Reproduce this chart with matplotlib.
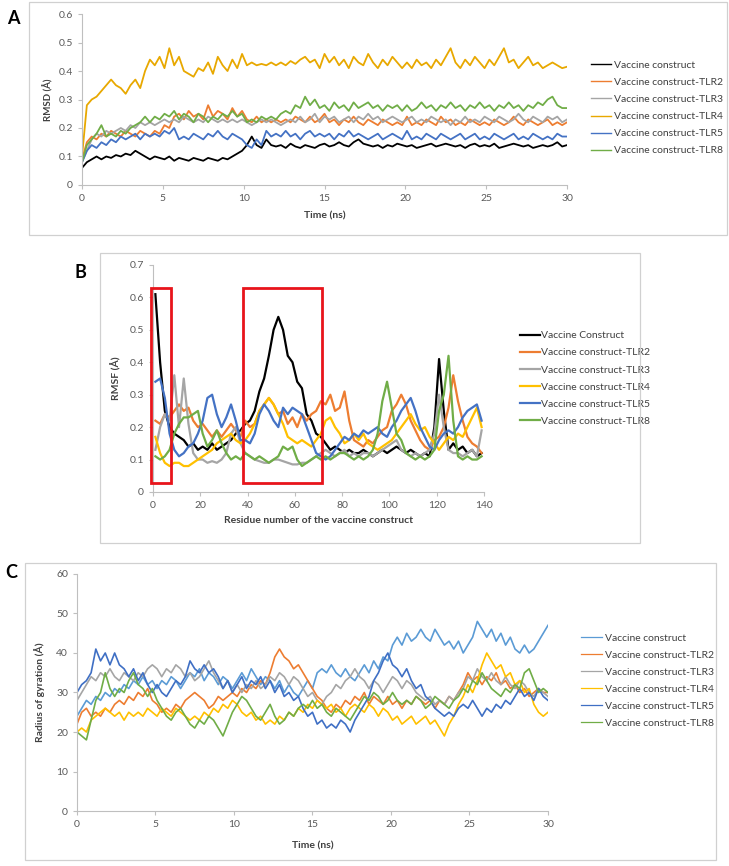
import numpy as np
import matplotlib
matplotlib.use("Agg")
import matplotlib.pyplot as plt
from matplotlib.patches import Rectangle

plt.rcParams['font.family'] = ['Lato', 'DejaVu Sans']

# ---- DATA ----
labels_a = ["Vaccine construct", "Vaccine construct-TLR2", "Vaccine construct-TLR3",
            "Vaccine construct-TLR4", "Vaccine construct-TLR5", "Vaccine construct-TLR8"]
labels_b = ["Vaccine Construct", "Vaccine construct-TLR2", "Vaccine construct-TLR3",
            "Vaccine construct-TLR4", "Vaccine construct-TLR5", "Vaccine construct-TLR8"]

# RMSD (A), sampled every 0.3 ns from 0 to 30 ns
rmsd_vc = [0.06, 0.08, 0.09, 0.10, 0.09, 0.10, 0.095, 0.105, 0.10, 0.11, 0.105, 0.12, 0.11, 0.10, 0.09, 0.10,
           0.095, 0.09, 0.10, 0.085, 0.095, 0.09, 0.085, 0.095, 0.09, 0.085, 0.095, 0.09, 0.085, 0.095, 0.09,
           0.10, 0.11, 0.12, 0.14, 0.17, 0.14, 0.13, 0.16, 0.14, 0.135, 0.14, 0.13, 0.145, 0.135, 0.13, 0.14,
           0.135, 0.13, 0.14, 0.145, 0.135, 0.14, 0.15, 0.14, 0.135, 0.15, 0.16, 0.145, 0.14, 0.135, 0.14, 0.13,
           0.14, 0.135, 0.145, 0.14, 0.135, 0.14, 0.13, 0.135, 0.14, 0.145, 0.135, 0.14, 0.145, 0.14, 0.135,
           0.14, 0.13, 0.14, 0.145, 0.135, 0.14, 0.135, 0.145, 0.13, 0.135, 0.14, 0.145, 0.14, 0.135, 0.14,
           0.13, 0.135, 0.14, 0.135, 0.14, 0.15, 0.135, 0.14]
rmsd_tlr2 = [0.09, 0.15, 0.17, 0.16, 0.18, 0.17, 0.19, 0.18, 0.17, 0.19, 0.18, 0.17, 0.19, 0.18, 0.17, 0.19,
             0.18, 0.21, 0.20, 0.24, 0.25, 0.23, 0.26, 0.24, 0.25, 0.23, 0.28, 0.24, 0.26, 0.25, 0.23, 0.27,
             0.24, 0.26, 0.23, 0.22, 0.24, 0.22, 0.23, 0.22, 0.23, 0.22, 0.23, 0.22, 0.24, 0.23, 0.22, 0.24,
             0.22, 0.23, 0.25, 0.22, 0.23, 0.21, 0.23, 0.22, 0.24, 0.22, 0.21, 0.23, 0.22, 0.21, 0.23, 0.22,
             0.21, 0.22, 0.21, 0.24, 0.21, 0.22, 0.21, 0.23, 0.22, 0.21, 0.24, 0.22, 0.23, 0.21, 0.22, 0.21,
             0.23, 0.22, 0.21, 0.22, 0.21, 0.23, 0.22, 0.21, 0.22, 0.24, 0.22, 0.21, 0.23, 0.22, 0.21, 0.22,
             0.23, 0.21, 0.22, 0.21, 0.22]
rmsd_tlr3 = [0.08, 0.12, 0.16, 0.18, 0.17, 0.19, 0.18, 0.19, 0.20, 0.19, 0.21, 0.20, 0.22, 0.21, 0.22, 0.21,
             0.22, 0.23, 0.22, 0.23, 0.22, 0.24, 0.23, 0.22, 0.23, 0.22, 0.24, 0.23, 0.22, 0.23, 0.22, 0.23,
             0.22, 0.23, 0.22, 0.21, 0.22, 0.23, 0.22, 0.23, 0.22, 0.21, 0.22, 0.23, 0.22, 0.24, 0.22, 0.23,
             0.25, 0.22, 0.24, 0.23, 0.24, 0.22, 0.23, 0.24, 0.22, 0.24, 0.23, 0.25, 0.23, 0.24, 0.22, 0.23,
             0.24, 0.23, 0.22, 0.23, 0.24, 0.22, 0.23, 0.22, 0.24, 0.23, 0.22, 0.23, 0.21, 0.23, 0.22, 0.24,
             0.22, 0.23, 0.22, 0.24, 0.23, 0.22, 0.24, 0.23, 0.22, 0.23, 0.25, 0.23, 0.22, 0.24, 0.23, 0.22,
             0.24, 0.23, 0.24, 0.22, 0.23]
rmsd_tlr4 = [0.10, 0.28, 0.30, 0.31, 0.33, 0.35, 0.37, 0.35, 0.34, 0.32, 0.35, 0.37, 0.34, 0.40, 0.44, 0.42,
             0.45, 0.41, 0.48, 0.42, 0.45, 0.40, 0.39, 0.38, 0.41, 0.40, 0.43, 0.39, 0.45, 0.42, 0.40, 0.44,
             0.41, 0.46, 0.42, 0.43, 0.42, 0.425, 0.42, 0.43, 0.42, 0.43, 0.42, 0.435, 0.425, 0.44, 0.45, 0.43,
             0.44, 0.41, 0.46, 0.43, 0.45, 0.42, 0.44, 0.41, 0.45, 0.43, 0.42, 0.46, 0.43, 0.41, 0.44, 0.42,
             0.45, 0.43, 0.41, 0.43, 0.41, 0.44, 0.42, 0.43, 0.41, 0.44, 0.42, 0.45, 0.48, 0.43, 0.41, 0.44,
             0.42, 0.45, 0.43, 0.41, 0.44, 0.42, 0.45, 0.48, 0.43, 0.44, 0.41, 0.43, 0.45, 0.42, 0.43, 0.41,
             0.42, 0.43, 0.42, 0.41, 0.415]
rmsd_tlr5 = [0.08, 0.12, 0.14, 0.13, 0.15, 0.14, 0.16, 0.15, 0.17, 0.16, 0.17, 0.18, 0.16, 0.18, 0.17, 0.18,
             0.17, 0.19, 0.18, 0.20, 0.16, 0.17, 0.16, 0.18, 0.17, 0.16, 0.18, 0.17, 0.19, 0.17, 0.16, 0.18,
             0.17, 0.16, 0.14, 0.13, 0.16, 0.14, 0.19, 0.17, 0.18, 0.17, 0.19, 0.17, 0.18, 0.16, 0.18, 0.19,
             0.17, 0.18, 0.17, 0.18, 0.16, 0.18, 0.17, 0.19, 0.17, 0.18, 0.17, 0.16, 0.17, 0.18, 0.16, 0.17,
             0.18, 0.17, 0.16, 0.19, 0.16, 0.17, 0.16, 0.18, 0.17, 0.16, 0.18, 0.17, 0.16, 0.17, 0.18, 0.16,
             0.17, 0.18, 0.16, 0.17, 0.16, 0.18, 0.17, 0.16, 0.17, 0.18, 0.16, 0.17, 0.16, 0.18, 0.17, 0.16,
             0.17, 0.16, 0.18, 0.17, 0.17]
rmsd_tlr8 = [0.08, 0.14, 0.16, 0.18, 0.21, 0.17, 0.18, 0.17, 0.19, 0.18, 0.20, 0.21, 0.22, 0.24, 0.22, 0.24,
             0.23, 0.25, 0.24, 0.26, 0.23, 0.25, 0.24, 0.22, 0.25, 0.24, 0.22, 0.24, 0.23, 0.25, 0.24, 0.26,
             0.24, 0.25, 0.22, 0.23, 0.22, 0.24, 0.23, 0.24, 0.23, 0.25, 0.26, 0.25, 0.28, 0.27, 0.31, 0.28,
             0.30, 0.27, 0.28, 0.26, 0.29, 0.27, 0.28, 0.26, 0.29, 0.27, 0.28, 0.29, 0.27, 0.28, 0.26, 0.28,
             0.27, 0.28, 0.26, 0.28, 0.26, 0.27, 0.29, 0.27, 0.28, 0.26, 0.28, 0.27, 0.29, 0.27, 0.28, 0.26,
             0.28, 0.27, 0.29, 0.27, 0.28, 0.26, 0.28, 0.27, 0.29, 0.27, 0.28, 0.26, 0.28, 0.27, 0.29, 0.28,
             0.30, 0.31, 0.28, 0.27, 0.27]

# RMSF (A) per residue, every second residue
residues = [1, 3, 5, 7, 9, 11, 13, 15, 17, 19, 21, 23, 25, 27, 29, 31, 33, 35, 37, 39, 41, 43, 45, 47, 49,
            51, 53, 55, 57, 59, 61, 63, 65, 67, 69, 71, 73, 75, 77, 79, 81, 83, 85, 87, 89, 91, 93, 95, 97,
            99, 101, 103, 105, 107, 109, 111, 113, 115, 117, 119, 121, 123, 125, 127, 129, 131, 133, 135,
            137, 139]
rmsf_vc = [0.61, 0.40, 0.25, 0.20, 0.18, 0.17, 0.16, 0.14, 0.15, 0.13, 0.14, 0.13, 0.15, 0.13, 0.14, 0.15,
           0.16, 0.18, 0.19, 0.21, 0.22, 0.25, 0.31, 0.35, 0.42, 0.50, 0.54, 0.50, 0.42, 0.40, 0.34, 0.32,
           0.24, 0.22, 0.18, 0.17, 0.15, 0.13, 0.14, 0.13, 0.12, 0.13, 0.12, 0.12, 0.13, 0.12, 0.11, 0.12,
           0.13, 0.12, 0.13, 0.14, 0.13, 0.12, 0.13, 0.12, 0.11, 0.12, 0.11, 0.20, 0.41, 0.25, 0.13, 0.15,
           0.13, 0.14, 0.12, 0.13, 0.11, 0.12]
rmsf_tlr2 = [0.22, 0.21, 0.24, 0.23, 0.25, 0.27, 0.25, 0.26, 0.22, 0.20, 0.21, 0.19, 0.17, 0.19, 0.17, 0.19,
             0.21, 0.19, 0.17, 0.22, 0.20, 0.21, 0.25, 0.27, 0.29, 0.27, 0.24, 0.25, 0.21, 0.23, 0.20, 0.24,
             0.22, 0.24, 0.25, 0.28, 0.27, 0.30, 0.25, 0.26, 0.31, 0.22, 0.16, 0.15, 0.14, 0.16, 0.15, 0.17,
             0.19, 0.20, 0.25, 0.27, 0.30, 0.27, 0.22, 0.19, 0.16, 0.14, 0.13, 0.16, 0.17, 0.20, 0.26, 0.36,
             0.28, 0.22, 0.17, 0.15, 0.14, 0.12]
rmsf_tlr3 = [0.13, 0.20, 0.24, 0.22, 0.36, 0.20, 0.35, 0.21, 0.12, 0.10, 0.10, 0.09, 0.095, 0.09, 0.10, 0.12,
             0.18, 0.20, 0.15, 0.12, 0.11, 0.10, 0.095, 0.09, 0.09, 0.10, 0.10, 0.095, 0.09, 0.085, 0.085, 0.09,
             0.09, 0.10, 0.11, 0.12, 0.13, 0.12, 0.11, 0.12, 0.13, 0.11, 0.12, 0.11, 0.12, 0.12, 0.11, 0.12,
             0.13, 0.14, 0.15, 0.16, 0.13, 0.12, 0.11, 0.12, 0.11, 0.12, 0.13, 0.18, 0.30, 0.20, 0.13, 0.12,
             0.12, 0.11, 0.12, 0.13, 0.11, 0.19]
rmsf_tlr4 = [0.17, 0.12, 0.09, 0.08, 0.09, 0.09, 0.08, 0.08, 0.09, 0.10, 0.11, 0.12, 0.13, 0.15, 0.16, 0.17,
             0.18, 0.16, 0.15, 0.16, 0.18, 0.21, 0.25, 0.27, 0.29, 0.27, 0.24, 0.21, 0.17, 0.16, 0.15, 0.16,
             0.15, 0.14, 0.16, 0.18, 0.22, 0.23, 0.20, 0.18, 0.15, 0.16, 0.18, 0.16, 0.18, 0.15, 0.14, 0.13,
             0.14, 0.15, 0.16, 0.18, 0.20, 0.22, 0.24, 0.21, 0.19, 0.20, 0.17, 0.15, 0.13, 0.15, 0.17, 0.16,
             0.18, 0.17, 0.20, 0.23, 0.26, 0.20]
rmsf_tlr5 = [0.34, 0.35, 0.29, 0.18, 0.13, 0.11, 0.12, 0.14, 0.15, 0.18, 0.22, 0.29, 0.30, 0.24, 0.20, 0.23,
             0.27, 0.22, 0.16, 0.16, 0.15, 0.18, 0.24, 0.27, 0.25, 0.22, 0.20, 0.26, 0.24, 0.26, 0.25, 0.24,
             0.20, 0.16, 0.12, 0.11, 0.10, 0.11, 0.13, 0.15, 0.17, 0.16, 0.18, 0.17, 0.19, 0.18, 0.19, 0.20,
             0.18, 0.17, 0.20, 0.22, 0.25, 0.27, 0.29, 0.25, 0.20, 0.17, 0.14, 0.13, 0.16, 0.18, 0.19, 0.18,
             0.20, 0.23, 0.25, 0.26, 0.27, 0.22]
rmsf_tlr8 = [0.11, 0.10, 0.11, 0.13, 0.18, 0.21, 0.23, 0.23, 0.24, 0.25, 0.18, 0.14, 0.16, 0.19, 0.15, 0.12,
             0.10, 0.11, 0.10, 0.12, 0.11, 0.10, 0.11, 0.10, 0.09, 0.10, 0.11, 0.14, 0.13, 0.14, 0.10, 0.08,
             0.09, 0.10, 0.11, 0.10, 0.11, 0.10, 0.11, 0.12, 0.12, 0.11, 0.10, 0.11, 0.10, 0.11, 0.13, 0.18,
             0.28, 0.34, 0.26, 0.18, 0.16, 0.12, 0.11, 0.10, 0.11, 0.10, 0.11, 0.13, 0.25, 0.30, 0.42, 0.22,
             0.11, 0.10, 0.11, 0.10, 0.10, 0.11]

# Radius of gyration (A), sampled every 0.3 ns
rg_vc = [24, 26, 28, 27, 29, 28, 30, 29, 31, 30, 32, 31, 33, 32, 34, 32, 33, 31, 33, 32, 34, 33, 31, 33, 35,
         34, 36, 33, 35, 34, 32, 34, 33, 31, 33, 35, 33, 36, 34, 32, 34, 33, 31, 33, 30, 32, 30, 29, 31, 33,
         31, 35, 36, 35, 37, 35, 34, 36, 34, 33, 35, 37, 35, 38, 36, 39, 38, 42, 44, 42, 45, 43, 44, 46, 44,
         43, 46, 44, 42, 43, 41, 43, 40, 42, 44, 48, 46, 44, 46, 43, 45, 42, 44, 41, 40, 42, 40, 41, 43, 45, 47]
rg_tlr2 = [22, 25, 26, 24, 25, 24, 26, 25, 27, 28, 27, 29, 28, 30, 29, 31, 28, 27, 25, 26, 25, 27, 26, 28, 29,
           30, 29, 28, 26, 27, 29, 28, 29, 30, 29, 31, 30, 32, 31, 33, 32, 35, 39, 41, 39, 38, 36, 37, 35, 33,
           31, 29, 28, 26, 25, 27, 26, 28, 27, 29, 28, 30, 27, 29, 28, 27, 29, 27, 28, 26, 28, 27, 29, 28, 27,
           28, 26, 28, 27, 29, 28, 30, 32, 35, 33, 34, 32, 34, 33, 35, 32, 33, 31, 32, 30, 31, 29, 30, 31, 30, 30]
rg_tlr3 = [28, 30, 32, 34, 33, 35, 34, 36, 34, 33, 35, 34, 33, 35, 34, 36, 37, 36, 34, 36, 35, 37, 36, 34, 35,
           33, 34, 36, 38, 35, 33, 31, 33, 30, 32, 30, 32, 31, 33, 31, 32, 34, 33, 35, 34, 32, 34, 33, 31, 29,
           30, 28, 27, 29, 30, 32, 31, 33, 34, 36, 34, 33, 31, 33, 32, 30, 32, 34, 33, 31, 33, 32, 30, 29, 28,
           29, 27, 28, 27, 29, 28, 30, 31, 34, 33, 36, 34, 33, 35, 33, 32, 34, 32, 31, 33, 32, 30, 29, 31, 30, 29]
rg_tlr4 = [20, 21, 20, 23, 24, 25, 26, 25, 24, 25, 23, 25, 24, 25, 24, 26, 25, 24, 26, 25, 24, 26, 25, 24, 23,
           24, 23, 25, 24, 26, 25, 27, 26, 28, 27, 25, 24, 25, 23, 24, 22, 23, 22, 24, 23, 25, 24, 26, 25, 27,
           26, 28, 27, 26, 27, 25, 26, 24, 26, 27, 26, 25, 27, 26, 24, 26, 25, 23, 24, 22, 23, 24, 22, 23, 24,
           22, 23, 21, 19, 22, 24, 27, 29, 32, 30, 33, 37, 40, 38, 36, 37, 34, 35, 32, 33, 30, 31, 27, 25, 24, 25]
rg_tlr5 = [30, 32, 33, 35, 41, 38, 40, 37, 40, 37, 36, 34, 36, 33, 35, 32, 30, 32, 30, 29, 31, 33, 32, 34, 38,
           36, 35, 37, 35, 36, 34, 31, 33, 30, 32, 34, 31, 33, 32, 34, 31, 33, 30, 32, 29, 30, 28, 29, 26, 24,
           25, 22, 23, 21, 22, 21, 23, 22, 20, 23, 25, 27, 29, 33, 35, 38, 40, 37, 36, 34, 36, 33, 31, 32, 29,
           28, 26, 25, 24, 25, 24, 26, 27, 26, 28, 26, 24, 26, 25, 27, 26, 28, 27, 29, 31, 29, 30, 28, 31, 29, 28]
rg_tlr8 = [20, 19, 18, 23, 28, 30, 35, 31, 29, 31, 30, 33, 35, 32, 31, 29, 31, 28, 26, 24, 23, 25, 26, 24, 22,
           21, 23, 22, 24, 23, 21, 19, 22, 25, 27, 29, 28, 26, 24, 23, 25, 27, 24, 22, 23, 25, 24, 26, 27, 26,
           28, 26, 27, 25, 24, 26, 25, 24, 23, 25, 27, 29, 28, 30, 29, 27, 28, 30, 28, 27, 28, 27, 29, 28, 26,
           27, 29, 28, 27, 26, 28, 29, 31, 30, 33, 32, 35, 33, 31, 30, 29, 31, 30, 32, 31, 35, 36, 33, 30, 31, 30]

t_a = np.linspace(0, 30, len(rmsd_vc))
t_c = np.linspace(0, 30, len(rg_vc))

# ---- STYLE ----
tick_col = '#595959'
spine_col = '#BFBFBF'
frame_col = '#D0D0D0'


def excel_axes(ax):
    for s in ['top', 'right']:
        ax.spines[s].set_visible(False)
    for s in ['left', 'bottom']:
        ax.spines[s].set_color(spine_col)
        ax.spines[s].set_linewidth(0.8)
    ax.tick_params(colors=spine_col, labelcolor=tick_col, labelsize=7.5, length=3, width=0.8)


fig = plt.figure(figsize=(7.29, 8.66), dpi=100)

# outer frames of the three panels (pixel boxes from the figure)
for x0, y0, x1, y1 in [(29, 2, 727, 235), (100, 253, 640, 543), (25, 563, 716, 860)]:
    fig.patches.append(Rectangle((x0 / 729, 1 - y1 / 866), (x1 - x0) / 729, (y1 - y0) / 866,
                                 transform=fig.transFigure, fill=False, edgecolor=frame_col, linewidth=0.9))

# ---- A: RMSD ----
ax1 = fig.add_axes([0.1125, 0.7864, 0.6653, 0.1974])
cols_a = ['#000000', '#ED7D31', '#A5A5A5', '#E8A800', '#4472C4', '#70AD47']
for y, c, lab in zip([rmsd_vc, rmsd_tlr2, rmsd_tlr3, rmsd_tlr4, rmsd_tlr5, rmsd_tlr8], cols_a, labels_a):
    ax1.plot(t_a, y, color=c, lw=1.3, label=lab)
ax1.set_xlim(0, 30)
ax1.set_ylim(0, 0.6)
ax1.set_xticks([0, 5, 10, 15, 20, 25, 30])
ax1.set_yticks([0, 0.1, 0.2, 0.3, 0.4, 0.5, 0.6])
ax1.set_yticklabels(['0', '0.1', '0.2', '0.3', '0.4', '0.5', '0.6'])
excel_axes(ax1)
ax1.set_xlabel('Time (ns)', fontsize=7.5, fontweight='bold', color='#404040', labelpad=6)
ax1.set_ylabel('RMSD (Å)', fontsize=7, fontweight='bold', color='#404040', labelpad=4)
leg = ax1.legend(loc='center left', bbox_to_anchor=(1.03, 0.45), frameon=False, fontsize=7.5,
                 handlelength=1.9, handletextpad=0.3, labelspacing=0.75, labelcolor='#404040')
for h in leg.get_lines():
    h.set_linewidth(1.0)
fig.text(13 / 729, 1 - 18 / 866, 'A', fontsize=13, fontweight='bold', ha='center', va='center')

# ---- B: RMSF ----
ax2 = fig.add_axes([0.2099, 0.4319, 0.4540, 0.2621])
cols_b = ['#000000', '#ED7D31', '#A5A5A5', '#FFC000', '#4472C4', '#70AD47']
for y, c, lab in zip([rmsf_vc, rmsf_tlr2, rmsf_tlr3, rmsf_tlr4, rmsf_tlr5, rmsf_tlr8], cols_b, labels_b):
    ax2.plot(residues, y, color=c, lw=1.6, label=lab)
ax2.set_xlim(0, 140)
ax2.set_ylim(0, 0.7)
ax2.set_xticks(range(0, 141, 20))
ax2.set_yticks([0, 0.1, 0.2, 0.3, 0.4, 0.5, 0.6, 0.7])
ax2.set_yticklabels(['0', '0.1', '0.2', '0.3', '0.4', '0.5', '0.6', '0.7'])
excel_axes(ax2)
ax2.set_xlabel('Residue number of the vaccine construct', fontsize=7.5, fontweight='bold',
               color='#404040', labelpad=4)
ax2.set_ylabel('RMSF (Å)', fontsize=7.5, fontweight='bold', color='#404040', labelpad=6)
for x0, x1 in [(-0.8, 7.6), (38, 71.5)]:
    ax2.add_patch(Rectangle((x0, 0.028), x1 - x0, 0.60, fill=False, edgecolor='#E8141B',
                            linewidth=2.0, clip_on=False, zorder=5))
ax2.legend(loc='center left', bbox_to_anchor=(1.08, 0.5), frameon=False, fontsize=7.5,
           handlelength=1.9, handletextpad=0.1, labelspacing=0.75, labelcolor='#404040')
fig.text(80 / 729, 1 - 272 / 866, 'B', fontsize=13, fontweight='bold', ha='center', va='center')

# ---- C: Radius of gyration ----
ax3 = fig.add_axes([0.1056, 0.0635, 0.6461, 0.2737])
cols_c = ['#5B9BD5', '#ED7D31', '#A5A5A5', '#FFC000', '#3F6FC4', '#70AD47']
for y, c, lab in zip([rg_vc, rg_tlr2, rg_tlr3, rg_tlr4, rg_tlr5, rg_tlr8], cols_c, labels_a):
    ax3.plot(t_c, y, color=c, lw=1.2, label=lab)
ax3.set_xlim(0, 30)
ax3.set_ylim(0, 60)
ax3.set_xticks([0, 5, 10, 15, 20, 25, 30])
ax3.set_yticks(range(0, 61, 10))
excel_axes(ax3)
ax3.set_xlabel('Time (ns)', fontsize=7.5, fontweight='bold', color='#404040', labelpad=9)
ax3.set_ylabel('Radius of gyration (Å)', fontsize=7.5, fontweight='bold', color='#404040', labelpad=8)
leg = ax3.legend(loc='center left', bbox_to_anchor=(1.05, 0.55), frameon=False, fontsize=7.5,
                 handlelength=2.0, handletextpad=0.3, labelspacing=0.75, labelcolor='#404040')
for h in leg.get_lines():
    h.set_linewidth(0.9)
fig.text(11 / 729, 1 - 572 / 866, 'C', fontsize=13, fontweight='bold', ha='center', va='center')

fig.savefig('out.png', dpi=100)
